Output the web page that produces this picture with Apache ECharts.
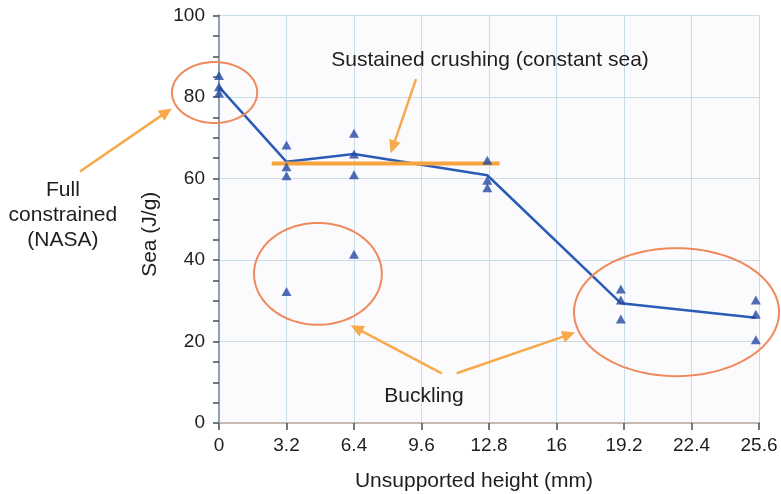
<!DOCTYPE html>
<html>
<head>
<meta charset="utf-8">
<script src="https://cdn.jsdelivr.net/npm/echarts@6/dist/echarts.min.js"></script>
<style>
html,body{margin:0;padding:0;background:#fff;}
#c{width:781px;height:494px;}
</style>
</head>
<body>
<div id="c"></div>
<script>
// ---- data ----
const specimenX = [0, 3.2, 6.4, 12.72, 19.05, 25.45];
const specimenSea = [
  [85.3, 82.5, 81.0],
  [68.2, 62.9, 60.7, 32.3],
  [71.1, 66.0, 60.9, 41.4],
  [64.5, 59.6, 57.7],
  [32.9, 30.2, 25.5],
  [30.2, 26.7, 20.4]
];
const meanSea = [82.5, 64.1, 66.0, 60.8, 29.4, 25.8];
const crushingX = [2.5, 13.3];
const crushingSea = 63.7;
const xTickLabels = ['0', '3.2', '6.4', '9.6', '12.8', '16', '19.2', '22.4', '25.6'];
const yTickLabels = ['0', '20', '40', '60', '80', '100'];

// ---- annotations (in data units) ----
const ellipses = [
  [-0.21, 81.1, 2.02, 7.48],
  [4.69, 36.6, 3.03, 12.5],
  [21.69, 27.2, 4.86, 15.7]
];
const arrows = [
  [-6.59, 61.7, -2.24, 77.2],
  [9.34, 84.4, 8.14, 66.2],
  [10.56, 12.2, 6.24, 24.0],
  [11.27, 12.2, 16.88, 22.2]
];
const labels = [
  [12.85, 89.1, 'Sustained crushing (constant sea)'],
  [9.72, 6.6, 'Buckling'],
  [-7.4, 51.0, 'Full\nconstrained\n(NASA)']
];

const FONT = '"Liberation Sans", Arial, Helvetica, sans-serif';
const TXT = '#1e1e1e';
const AXIS = '#3f5259';

const scatterData = [];
specimenSea.forEach((arr, i) => arr.forEach(v => scatterData.push([specimenX[i], v])));
const meanData = specimenX.map((x, i) => [x, meanSea[i]]);
const crushData = crushingX.map(x => [x, crushingSea]);

const chart = echarts.init(document.getElementById('c'), null, {renderer: 'canvas'});
chart.setOption({
  backgroundColor: '#ffffff',
  animation: false,
  grid: {left: 219, right: 22, top: 15.5, bottom: 71, show: true, backgroundColor: '#fbfbfd', borderWidth: 0,
    containLabel: false, outerBoundsMode: 'none'},
  xAxis: [{
    type: 'value', min: 0, max: 25.6, interval: 3.2,
    name: 'Unsupported height (mm)', nameLocation: 'middle', nameGap: 48,
    nameTextStyle: {fontSize: 21, color: TXT, fontFamily: FONT, padding: [0, 30, 0, 0]},
    axisLine: {show: true, onZero: false, lineStyle: {color: AXIS, width: 2}},
    axisTick: {show: true, length: 7, lineStyle: {color: AXIS, width: 1.5}},
    axisLabel: {fontSize: 19, color: TXT, fontFamily: FONT, margin: 13,
      formatter: (v) => xTickLabels[Math.round(v / 3.2)]},
    splitLine: {show: true, lineStyle: {color: '#c9dce8', width: 1}}
  }, {
    type: 'value', position: 'top', min: 0, max: 25.6, interval: 3.2,
    axisLine: {show: true, lineStyle: {color: '#f3dccd', width: 1.5}},
    axisTick: {show: false}, axisLabel: {show: false}, splitLine: {show: false}
  }],
  yAxis: [{
    type: 'value', min: 0, max: 100, interval: 20,
    name: 'Sea (J/g)', nameLocation: 'middle', nameGap: 58, nameRotate: 90,
    nameTextStyle: {fontSize: 21, color: TXT, fontFamily: FONT, padding: [0, 30, 0, 0]},
    axisLine: {show: true, onZero: false, lineStyle: {color: AXIS, width: 2}},
    axisTick: {show: true, length: 6, lineStyle: {color: AXIS, width: 1.5}},
    minorTick: {show: true, splitNumber: 4, length: 6, lineStyle: {color: AXIS, width: 1.5}},
    axisLabel: {fontSize: 19, color: TXT, fontFamily: FONT, margin: 14,
      formatter: (v) => yTickLabels[Math.round(v / 20)]},
    splitLine: {show: true, lineStyle: {color: '#c9dce8', width: 1}}
  }, {
    type: 'value', position: 'right', min: 0, max: 100, interval: 20,
    axisLine: {show: true, lineStyle: {color: '#a9bccb', width: 1.5}},
    axisTick: {show: false}, axisLabel: {show: false}, splitLine: {show: false}
  }],
  series: [
    {
      type: 'line', data: meanData, symbol: 'none', z: 2,
      lineStyle: {color: '#2a5bb5', width: 2.5}
    },
    {
      type: 'line', data: crushData, symbol: 'none', z: 3,
      lineStyle: {color: '#f6a43e', width: 4}
    },
    {
      type: 'scatter', data: scatterData, symbol: 'triangle', symbolSize: [10, 9], z: 4,
      itemStyle: {color: '#2548a3'}
    },
    {
      type: 'custom', clip: false, z: 5, silent: true,
      data: ellipses,
      renderItem: (params, api) => {
        const c = api.coord([api.value(0), api.value(1)]);
        const s = api.size([api.value(2), api.value(3)]);
        const pts = [];
        for (let k = 0; k <= 120; k++) {
          const t = k / 120 * Math.PI * 2;
          pts.push([c[0] + s[0] * Math.cos(t), c[1] + s[1] * Math.sin(t)]);
        }
        return {type: 'polyline', shape: {points: pts},
          style: {stroke: '#f0895a', lineWidth: 2, fill: null}};
      }
    },
    {
      type: 'custom', clip: false, z: 5, silent: true,
      data: arrows,
      renderItem: (params, api) => {
        const p0 = api.coord([api.value(0), api.value(1)]);
        const p1 = api.coord([api.value(2), api.value(3)]);
        const dx = p1[0] - p0[0], dy = p1[1] - p0[1];
        const L = Math.sqrt(dx * dx + dy * dy);
        const ux = dx / L, uy = dy / L;
        const hl = 13, hw = 6;
        const b = [p1[0] - ux * hl, p1[1] - uy * hl];
        return {type: 'group', children: [
          {type: 'line', shape: {x1: p0[0], y1: p0[1], x2: b[0] + ux * 2, y2: b[1] + uy * 2},
            style: {stroke: '#f7a94b', lineWidth: 2.5}},
          {type: 'polygon', shape: {points: [p1, [b[0] - uy * hw, b[1] + ux * hw], [b[0] + uy * hw, b[1] - ux * hw]]},
            style: {fill: '#f7a94b'}}
        ]};
      }
    },
    {
      type: 'custom', clip: false, z: 6, silent: true,
      data: labels,
      renderItem: (params, api) => {
        const l = labels[params.dataIndex];
        const p = api.coord([l[0], l[1]]);
        return {type: 'text', x: p[0], y: p[1],
          style: {text: l[2], fill: TXT, fontSize: 21, fontFamily: FONT,
            align: 'center', verticalAlign: 'middle', lineHeight: 25}};
      }
    }
  ]
});
</script>
</body>
</html>
